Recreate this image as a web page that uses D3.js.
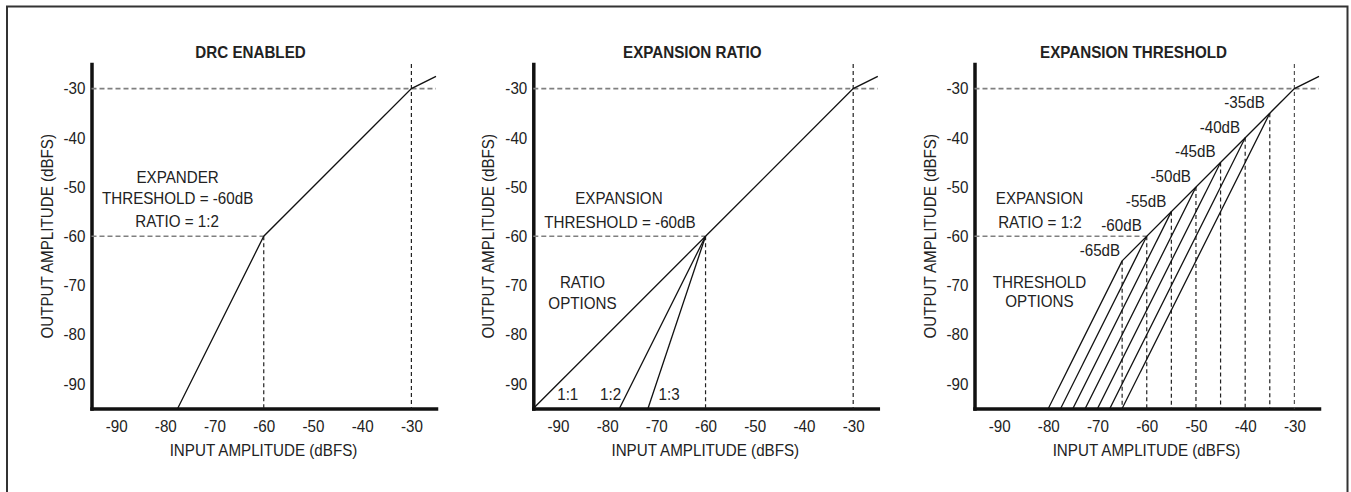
<!DOCTYPE html>
<html>
<head>
<meta charset="utf-8">
<script src="https://cdn.jsdelivr.net/npm/d3@7"></script>
<style>
  html, body { margin: 0; padding: 0; background: #fff; }
  svg { display: block; font-family: "Liberation Sans", Arial, Helvetica, sans-serif; }
</style>
</head>
<body>
<svg id="chart" width="1351" height="492"></svg>
<script>
// ---------------- data ----------------
const axisDomain = [-95, -25];
const inputTicks = [-90, -80, -70, -60, -50, -40, -30];
const outputTicks = [-90, -80, -70, -60, -50, -40, -30];
const panelTitles = ["DRC ENABLED", "EXPANSION RATIO", "EXPANSION THRESHOLD"];
const xAxisTitle = "INPUT AMPLITUDE (dBFS)";
const yAxisTitle = "OUTPUT AMPLITUDE (dBFS)";

// panel 1: DRC transfer curve (expander 1:2 below -60, 1:1, compression above -30)
const drcInput  = [-77.5, -60, -30, -25];
const drcOutput = [-95,   -60, -30, -27.5];

// panel 2: ratio options, all meeting at the -60 dB expansion threshold
const ratioLabels = ["1:1", "1:2", "1:3"];
const ratioStartInput = [-95, -77.5, -71.7];   // input where each line meets -95 dBFS output
const ratioKnee = -60;
const upperInput  = [-30, -25];
const upperOutput = [-30, -27.5];

// panel 3: threshold options, ratio 1:2
const thresholdValues = [-35, -40, -45, -50, -55, -60, -65];
const thresholdLabels = ["-35dB", "-40dB", "-45dB", "-50dB", "-55dB", "-60dB", "-65dB"];
const thresholdStartInput = [-65, -67.5, -70, -72.5, -75, -77.5, -80];

// ---------------- layout ----------------
const svg = d3.select("#chart");
const SX = 0.92;                 // slight horizontal condensing of text
const TEXT = "#222";
const panelLefts = [91.5, 533.3, 974.5];
const plotSize = 344.5;
const plotTop = 64;
const plotBottom = plotTop + plotSize;

// outer frame
svg.append("rect")
  .attr("x", 7).attr("y", 6.5).attr("width", 1340.5).attr("height", 520)
  .attr("fill", "none").attr("stroke", "#333").attr("stroke-width", 2);

function label(g, x, y, str, opts = {}) {
  const rot = opts.rotate ? ` rotate(${opts.rotate})` : "";
  return g.append("text")
    .attr("transform", `translate(${x},${y})${rot} scale(${SX},1)`)
    .attr("text-anchor", opts.anchor || "middle")
    .attr("fill", TEXT)
    .style("font-size", (opts.size || 16.5) + "px")
    .style("font-weight", opts.bold ? "bold" : "normal")
    .text(str);
}

function makePanel(i) {
  const left = panelLefts[i];
  const x = d3.scaleLinear().domain(axisDomain).range([left, left + plotSize]);
  const y = d3.scaleLinear().domain(axisDomain).range([plotBottom, plotTop]);
  const g = svg.append("g");
  const line = d3.line().x(d => x(d[0])).y(d => y(d[1]));
  const fmt = d => String(d);

  // title
  label(g, left + 159, 58, panelTitles[i], { bold: true, size: 16.5 });

  // axes
  const yAxis = g.append("g").attr("transform", `translate(${left},0)`)
    .call(d3.axisLeft(y).tickValues(outputTicks).tickSize(0).tickSizeOuter(0).tickPadding(6).tickFormat(fmt));
  const xAxis = g.append("g").attr("transform", `translate(0,${plotBottom})`)
    .call(d3.axisBottom(x).tickValues(inputTicks).tickSize(0).tickSizeOuter(0).tickPadding(12).tickFormat(fmt));
  [yAxis, xAxis].forEach(a => {
    a.select(".domain").attr("stroke", "#111").attr("stroke-width", 3.5).attr("stroke-linecap", "square");
    a.selectAll(".tick text")
      .attr("fill", TEXT)
      .style("font-size", "16.5px")
      .style("font-family", "'Liberation Sans', Arial, sans-serif")
      .attr("transform", `scale(${SX},1)`);
  });
  yAxis.selectAll(".tick text").attr("x", -6 / SX);

  // axis titles
  label(g, left + 172, 456, xAxisTitle, { size: 16.5 });
  label(g, left - 39, (plotTop + plotBottom) / 2, yAxisTitle, { size: 16.5, rotate: -90 });

  return { g, x, y, line, left };
}

function hDash(p, yv, x0, x1) {
  p.g.append("line")
    .attr("x1", p.x(x0)).attr("x2", p.x(x1)).attr("y1", p.y(yv)).attr("y2", p.y(yv))
    .attr("stroke", "#808080").attr("stroke-width", 1.6).attr("stroke-dasharray", "5,3");
}
function vDash(p, xv, y0, y1, color) {
  p.g.append("line")
    .attr("x1", p.x(xv)).attr("x2", p.x(xv)).attr("y1", p.y(y0)).attr("y2", p.y(y1))
    .attr("stroke", color || "#222").attr("stroke-width", 1.2).attr("stroke-dasharray", "4,3");
}
function curve(p, pts) {
  p.g.append("path").attr("d", p.line(pts))
    .attr("fill", "none").attr("stroke", "#111").attr("stroke-width", 1.3)
    .attr("stroke-linejoin", "miter");
}

// ---------------- panel 1 ----------------
{
  const p = makePanel(0);
  hDash(p, -30, -95, -25);
  hDash(p, -60, -95, -60);
  vDash(p, -30, -25, -95);
  vDash(p, -60, -60, -95);
  curve(p, drcInput.map((v, k) => [v, drcOutput[k]]));
  label(p.g, p.x(-77.5), p.y(-49.2), "EXPANDER");
  label(p.g, p.x(-77.5), p.y(-53.5), "THRESHOLD = -60dB");
  label(p.g, p.x(-77.6), p.y(-58.05), "RATIO = 1:2");
}

// ---------------- panel 2 ----------------
{
  const p = makePanel(1);
  hDash(p, -30, -95, -25);
  hDash(p, -60, -95, -60);
  vDash(p, -30, -25, -95);
  vDash(p, -60, -60, -95);
  curve(p, [[ratioKnee, ratioKnee]].concat(upperInput.map((v, k) => [v, upperOutput[k]])));
  ratioStartInput.forEach(s => curve(p, [[s, -95], [ratioKnee, ratioKnee]]));
  label(p.g, p.x(-77.6), p.y(-53.45), "EXPANSION");
  label(p.g, p.x(-77.4), p.y(-58.3), "THRESHOLD = -60dB");
  label(p.g, p.x(-85), p.y(-70.6), "RATIO");
  label(p.g, p.x(-85), p.y(-74.8), "OPTIONS");
  const ratioLabelX = [-88, -79.3, -67.4];
  ratioLabels.forEach((t, k) => label(p.g, p.x(ratioLabelX[k]), p.y(-93.3), t));
}

// ---------------- panel 3 ----------------
{
  const p = makePanel(2);
  hDash(p, -30, -95, -25);
  hDash(p, -60, -95, -60);
  vDash(p, -30, -25, -95, "#555");
  thresholdValues.forEach(t => vDash(p, t, t, -95));
  const lowest = d3.min(thresholdValues);
  curve(p, [[lowest, lowest]].concat(upperInput.map((v, k) => [v, upperOutput[k]])));
  thresholdValues.forEach((t, k) => curve(p, [[thresholdStartInput[k], -95], [t, t]]));
  thresholdValues.forEach((t, k) => {
    const dx = t === lowest ? -2 : -5;
    label(p.g, p.x(t) + dx, p.y(t) - 5, thresholdLabels[k], { anchor: "end" });
  });
  label(p.g, p.x(-81.8), p.y(-53.45), "EXPANSION");
  label(p.g, p.x(-81.7), p.y(-58.3), "RATIO = 1:2");
  label(p.g, p.x(-81.8), p.y(-70.5), "THRESHOLD");
  label(p.g, p.x(-81.8), p.y(-74.3), "OPTIONS");
}
</script>
</body>
</html>
